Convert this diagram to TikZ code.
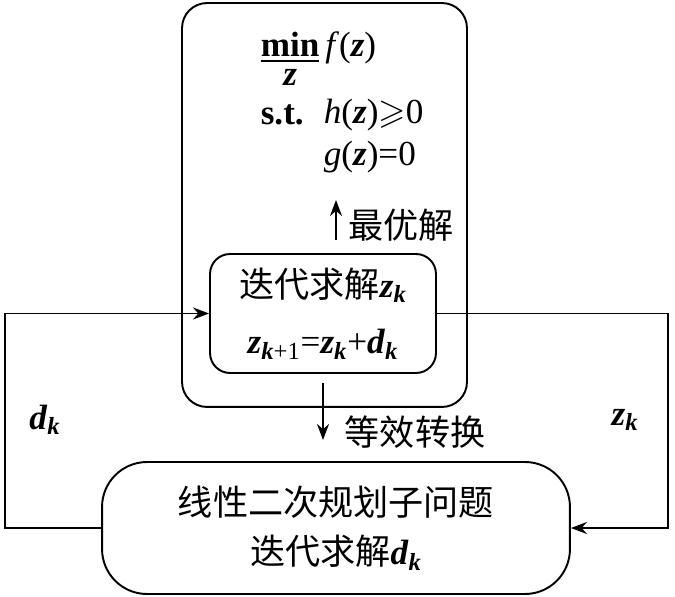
\documentclass[tikz,border=0pt]{standalone}
\usepackage{fontspec}
\usepackage{amsmath,amssymb}
\setmainfont{Liberation Serif}
\newfontfamily\cjk{Noto Sans CJK SC}
\usetikzlibrary{arrows.meta}
\newcommand{\zv}{\textbf{\textit{z}}}
\newcommand{\dv}{\textbf{\textit{d}}}
\newcommand{\kv}{\textbf{\textit{k}}}
\begin{document}
\begin{tikzpicture}[x=0.02cm, y=-0.02cm, line width=1.1pt,
    font=\fontsize{20}{24}\selectfont, >={Stealth[length=3.2mm,width=2.4mm]}]
      \useasboundingbox (0,0) rectangle (675,597);
      % Nodes
      \node (outer) at (324.5,205) [rectangle, draw, rounded corners=0.5cm, minimum width=5.7cm, minimum height=8.08cm] {};
      \node (inner) at (323,313.5) [rectangle, draw, rounded corners=0.4cm, minimum width=4.52cm, minimum height=2.38cm, align=center]
        {{\cjk 迭代求解}\zv$_{\kv}$\\[8pt] \zv$_{\kv\text{+1}}$=\zv$_{\kv}$+\dv$_{\kv}$};
      \node (qp) at (336,528) [rectangle, draw, rounded corners=0.9cm, minimum width=9.36cm, minimum height=2.64cm, align=center]
        {{\cjk 线性二次规划子问题}\\[4pt] {\cjk 迭代求解}\dv$_{\kv}$};

      \node (obj) at (254,60) [anchor=west] {$\mathop{\underline{\textbf{min}}}\limits_{\textstyle\zv}$\,\textit{f}(\zv)};
      \node (st) at (254,115) [anchor=west] {\textbf{s.t.}};
      \node (hcon) at (317,115) [anchor=west] {\textit{h}(\zv)$\geqslant$0};
      \node (gcon) at (317,157) [anchor=west] {\textit{g}(\zv)=0};

      \node (opt) at (401,225) {\cjk 最优解};
      \node (cvt) at (415,432) {\cjk 等效转换};
      \node (dlab) at (45,420) {\dv$_{\kv}$};
      \node (zlab) at (625,420) {\zv$_{\kv}$};

      \coordinate (optS) at (336,240);
      \coordinate (optE) at (336,200);
      \coordinate (cvtS) at (323,383);
      \coordinate (cvtE) at (323,440);
      \coordinate (lft) at (5,528);
      \coordinate (rgt) at (668,528);

      % Edges
      \draw[->] (optS) -- (optE);
      \draw[->] (cvtS) -- (cvtE);
      \draw[->] (qp.west) -- (lft) |- (inner.west);
      \draw[->] (inner.east) -| (rgt) -- (qp.east);
  \end{tikzpicture}
\end{document}
